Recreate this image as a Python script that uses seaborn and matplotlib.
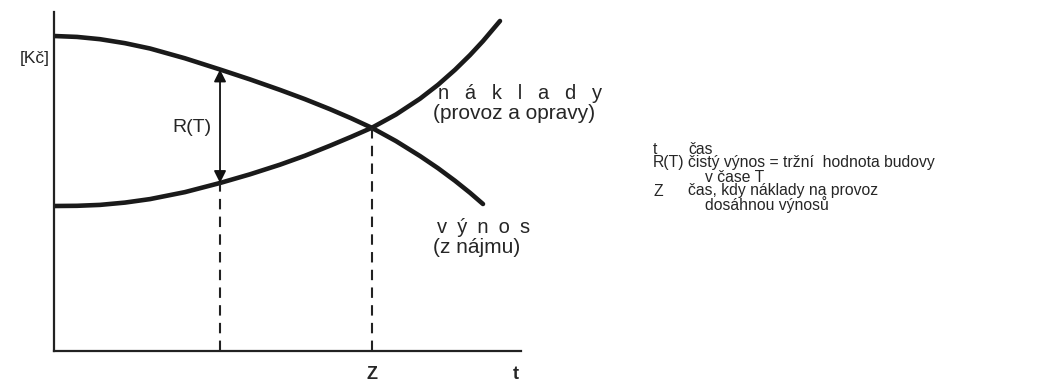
import matplotlib
matplotlib.use("Agg")
import matplotlib.pyplot as plt
import seaborn as sns
import pandas as pd

# curves (t in chart units 0..10, value in chart units 0..10)
t_grid = [0, 0.4925, 0.985, 1.520, 2.056, 2.805, 3.555, 4.197, 4.839, 5.375,
          5.910, 6.360, 6.809, 7.323, 7.837, 8.223, 8.587, 8.908, 9.186, 9.550]

# výnos (z nájmu) - falling curve
v_vynos = [9.292, 9.265, 9.198, 9.080, 8.923, 8.634, 8.304, 8.012, 7.702, 7.428,
           7.133, 6.867, 6.581, 6.192, 5.752, 5.392, 5.021, 4.667, 4.336]
t_vynos = t_grid[:len(v_vynos)]

# náklady (provoz a opravy) - rising curve
v_naklady = [4.277, 4.283, 4.310, 4.378, 4.481, 4.687, 4.956, 5.212, 5.496, 5.761,
             6.056, 6.316, 6.587, 6.976, 7.442, 7.853, 8.295, 8.729, 9.142, 9.735]
t_naklady = t_grid

# marked times: T (net yield arrow) and Z (crossing)
t_T = 3.555
t_Z = 6.809
v_T_low = 4.956
v_T_high = 8.304
v_Z = 6.584

legend_keys = ["t", "R(T)", "", "Z", ""]
legend_texts = ["čas", "čistý výnos = tržní  hodnota budovy", "v čase T",
                "čas, kdy náklady na provoz", "dosáhnou výnosů"]

sns.set_style("white")
plt.rcParams["font.family"] = ["Liberation Sans", "DejaVu Sans"]

W, H = 1047, 382
fig = plt.figure(figsize=(W / 100, H / 100), dpi=100)
ax = fig.add_axes([54 / W, (H - 351) / H, (521 - 54) / W, (351 - 12) / H])

df_v = pd.DataFrame({"t": t_vynos, "v": v_vynos})
df_n = pd.DataFrame({"t": t_naklady, "v": v_naklady})
for d in (df_v, df_n):
    sns.lineplot(data=d, x="t", y="v", sort=False, color="#1a1a1a", lw=3.3,
                 solid_joinstyle="round", solid_capstyle="round", ax=ax)

ax.set_xlim(0, 10)
ax.set_ylim(0, 10)
ax.set_xticks([])
ax.set_yticks([])
ax.set_xlabel("")
ax.set_ylabel("")
for s in ["top", "right"]:
    ax.spines[s].set_visible(False)
for s in ["left", "bottom"]:
    ax.spines[s].set_linewidth(1.6)
    ax.spines[s].set_color("#222222")
ax.patch.set_alpha(0)

# dashed drop lines
ax.plot([t_T, t_T], [0, v_T_low], ls=(0, (5, 3.5)), lw=1.5, color="#222222")
ax.plot([t_Z, t_Z], [0, v_Z], ls=(0, (5, 3.5)), lw=1.5, color="#222222")

# double arrow R(T)
ax.annotate("", xy=(t_T, v_T_high), xytext=(t_T, v_T_low),
            arrowprops=dict(arrowstyle="<|-|>", color="#111111", lw=1.3,
                            mutation_scale=18, shrinkA=0, shrinkB=0))

ax.text(-0.09, 8.64, "[Kč]", ha="right", va="center", fontsize=12.5, clip_on=False)
ax.text(3.38, 6.58, "R(T)", ha="right", va="center", fontsize=14)
ax.text(t_Z, -0.68, "Z", ha="center", va="center", fontsize=13, fontweight="bold", clip_on=False)
ax.text(9.89, -0.68, "t", ha="center", va="center", fontsize=13, fontweight="bold", clip_on=False)

ax.text(8.22, 7.61, "n\u2002 á\u2002 k\u2002 l\u2002 a\u2002 d\u2002 y", ha="left", va="center",
        fontsize=14.5, clip_on=False)
ax.text(8.12, 7.02, "(provoz a opravy)", ha="left", va="center", fontsize=15, clip_on=False)
ax.text(8.20, 3.63, "v\u2002ý\u2002n\u2002o\u2002s", ha="left", va="center", fontsize=14.5,
        clip_on=False)
ax.text(8.12, 3.04, "(z nájmu)", ha="left", va="center", fontsize=15, clip_on=False)

# explanation block on the right
rows_y = [150, 163, 177, 191, 205]
for key, txt, y in zip(legend_keys, legend_texts, rows_y):
    if key:
        fig.text(653 / W, 1 - y / H, key, ha="left", va="center", fontsize=11.3)
        fig.text(688 / W, 1 - y / H, txt, ha="left", va="center", fontsize=11.3)
    else:
        fig.text(705 / W, 1 - y / H, txt, ha="left", va="center", fontsize=11.3)

fig.savefig("out.png", dpi=100)
